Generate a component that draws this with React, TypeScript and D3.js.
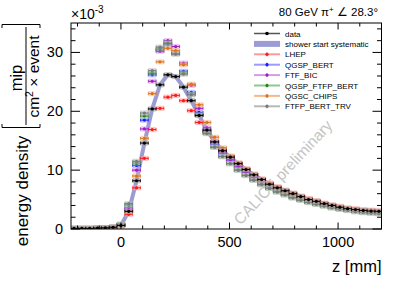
import React from 'react';
import * as d3 from 'd3';

const zBins = [-216, -180, -144, -108, -72, -36, 0, 36, 72, 108, 144, 180, 216, 252, 288, 324, 360, 396, 432, 468, 504, 540, 576, 612, 648, 684, 720, 756, 792, 828, 864, 900, 936, 972, 1008, 1044, 1080, 1116, 1152, 1188];

const dataVals = [0.1, 0.1, 0.1, 0.15, 0.2, 0.3, 0.6, 3.0, 8.2, 14.6, 20.4, 24.5, 26.2, 25.9, 24.1, 21.8, 19.3, 16.8, 14.8, 13.3, 12.2, 11.1, 10.1, 9.2, 8.4, 7.6, 7.0, 6.5, 6.0, 5.5, 5.0, 4.7, 4.3, 4.0, 3.7, 3.45, 3.3, 3.15, 3.05, 3.0];
const lhepVals = [0.1, 0.1, 0.1, 0.1, 0.2, 0.3, 0.5, 2.5, 7.0, 12.0, 16.9, 20.5, 22.4, 22.7, 21.8, 20.1, 18.1, 16.5, 14.8, 13.5, 12.3, 11.2, 10.2, 9.3, 8.5, 7.8, 7.2, 6.6, 6.1, 5.6, 5.2, 4.8, 4.4, 4.1, 3.85, 3.6, 3.45, 3.3, 3.2, 3.1];
const qgspBertVals = [0.1, 0.1, 0.1, 0.15, 0.2, 0.3, 0.7, 3.6, 10.8, 18.5, 26.2, 30.4, 31.3, 29.9, 26.8, 23.2, 19.8, 16.7, 14.4, 12.8, 11.6, 10.5, 9.6, 8.7, 7.9, 7.2, 6.6, 6.1, 5.6, 5.2, 4.8, 4.4, 4.1, 3.8, 3.55, 3.3, 3.1, 2.95, 2.85, 2.75];
const ftfBicVals = [0.1, 0.1, 0.1, 0.15, 0.2, 0.3, 0.7, 3.3, 10.0, 17.0, 25.1, 30.2, 32.0, 31.0, 28.2, 24.4, 20.5, 17.2, 14.8, 13.1, 11.8, 10.7, 9.7, 8.8, 8.0, 7.3, 6.7, 6.1, 5.6, 5.2, 4.8, 4.45, 4.1, 3.8, 3.55, 3.35, 3.15, 3.0, 2.9, 2.85];
const qgspFtfpVals = [0.1, 0.1, 0.1, 0.15, 0.2, 0.3, 0.8, 4.1, 11.2, 19.2, 26.5, 30.6, 31.6, 29.8, 26.5, 22.9, 19.4, 16.3, 13.9, 12.3, 11.1, 10.0, 9.1, 8.3, 7.5, 6.9, 6.3, 5.8, 5.3, 4.9, 4.5, 4.2, 3.9, 3.6, 3.35, 3.15, 2.95, 2.8, 2.7, 2.6];
const qgscChipsVals = [0.15, 0.15, 0.15, 0.2, 0.25, 0.35, 0.6, 3.0, 9.0, 15.4, 23.0, 28.4, 30.7, 30.3, 27.9, 24.6, 21.1, 18.1, 15.6, 13.8, 12.4, 11.2, 10.2, 9.3, 8.4, 7.7, 7.0, 6.4, 5.9, 5.4, 5.0, 4.6, 4.25, 3.95, 3.7, 3.45, 3.25, 3.1, 3.0, 2.95];
const ftfpTrvVals = [0.1, 0.1, 0.1, 0.15, 0.2, 0.3, 0.8, 4.3, 11.5, 19.7, 26.9, 30.9, 31.5, 29.7, 26.3, 22.8, 19.3, 16.2, 13.9, 12.3, 11.1, 10.0, 9.1, 8.3, 7.6, 6.9, 6.3, 5.8, 5.3, 4.9, 4.5, 4.2, 3.9, 3.6, 3.35, 3.15, 2.95, 2.8, 2.7, 2.65];

const modelNames = ['LHEP', 'QGSP_BERT', 'FTF_BIC', 'QGSP_FTFP_BERT', 'QGSC_CHIPS', 'FTFP_BERT_TRV'];
const modelColors = ['#ff1a1a', '#1a1aff', '#a01cc0', '#1f7f1f', '#e0701a', '#7a7a7a'];
const modelLight = ['#ff9a9a', '#9a9aff', '#d79ae6', '#8fc88f', '#f3b98a', '#b8b8b8'];
const modelVals = [lhepVals, qgspBertVals, ftfBicVals, qgspFtfpVals, qgscChipsVals, ftfpTrvVals];

const xMajor = [0, 500, 1000];
const xMinor = [-200, -100, 100, 200, 300, 400, 600, 700, 800, 900, 1100];
const yMajor = [0, 10, 20, 30];
const yMinor = [2, 4, 6, 8, 12, 14, 16, 18, 22, 24, 26, 28, 32, 34];

const BIN_HALF = 18;

export default function App() {
  const W = 415, H = 281;
  const L = 71, R = 381.5, T = 23, B = 229;
  const x = d3.scaleLinear().domain([-230, 1200]).range([L, R]);
  const y = d3.scaleLinear().domain([0, 35]).range([B, T]);
  const font = 'Liberation Sans, Arial, Helvetica, sans-serif';

  const bandLine = d3.line<number>()
    .x((_, i) => x(zBins[i + 6]))
    .y(d => y(d))
    .curve(d3.curveLinear);
  const bandPath = bandLine(dataVals.slice(6)) || '';

  const point = (z: number, v: number, color: string, light: string, key: string) => {
    const cx = x(z), cy = y(v);
    const x0 = x(z - BIN_HALF), x1 = x(z + BIN_HALF);
    return (
      <g key={key}>
        <rect x={x0} y={cy - 2.6} width={x1 - x0} height={5.2} fill={light} opacity={0.55} />
        <line x1={x0} x2={x1} y1={cy} y2={cy} stroke={color} strokeWidth={1} />
        <line x1={x0} x2={x0} y1={cy - 1.5} y2={cy + 1.5} stroke={color} strokeWidth={0.8} />
        <line x1={x1} x2={x1} y1={cy - 1.5} y2={cy + 1.5} stroke={color} strokeWidth={0.8} />
        <circle cx={cx} cy={cy} r={1.6} fill={color} />
      </g>
    );
  };

  const legendRows = 33.5;
  const legendStep = 10.4;
  const lx0 = 254, lx1 = 280, ltx = 285;

  return (
    <svg width={W} height={H} style={{ position: 'absolute', left: 0, top: 0, background: '#fff' }} fontFamily={font}>
      <defs>
        <clipPath id="plotclip">
          <rect x={L} y={T} width={R - L} height={B - T} />
        </clipPath>
      </defs>
      <rect x={0} y={0} width={W} height={H} fill="#fff" />

      {/* watermark */}
      <text x={0} y={0} transform={`translate(287,176) rotate(-47)`} textAnchor="middle" fontSize={15.5} fill="#c4c4c4">CALICE preliminary</text>

      <g clipPath="url(#plotclip)">
        <path d={bandPath} fill="none" stroke="#9c9cd4" strokeWidth={4} strokeLinejoin="round" />
        {modelVals.map((vals, si) =>
          vals.map((v, i) => point(zBins[i], v, modelColors[si], modelLight[si], `m${si}-${i}`))
        )}
        {dataVals.map((v, i) => point(zBins[i], v, '#000', '#9a9a9a', `d-${i}`))}
      </g>

      {/* frame */}
      <rect x={L} y={T} width={R - L} height={B - T} fill="none" stroke="#000" strokeWidth={1} />
      {xMajor.map(t => (
        <g key={`xM${t}`}>
          <line x1={x(t)} x2={x(t)} y1={B} y2={B - 6.5} stroke="#000" />
          <line x1={x(t)} x2={x(t)} y1={T} y2={T + 6.5} stroke="#000" />
          <text x={x(t)} y={247} textAnchor="middle" fontSize={14.5}>{t}</text>
        </g>
      ))}
      {xMinor.map(t => (
        <g key={`xm${t}`}>
          <line x1={x(t)} x2={x(t)} y1={B} y2={B - 3.5} stroke="#000" />
          <line x1={x(t)} x2={x(t)} y1={T} y2={T + 3.5} stroke="#000" />
        </g>
      ))}
      {yMajor.map(t => (
        <g key={`yM${t}`}>
          <line x1={L} x2={L + 9} y1={y(t)} y2={y(t)} stroke="#000" />
          <line x1={R} x2={R - 9} y1={y(t)} y2={y(t)} stroke="#000" />
          <text x={63} y={y(t) + 5} textAnchor="end" fontSize={14.5}>{t}</text>
        </g>
      ))}
      {yMinor.map(t => (
        <g key={`ym${t}`}>
          <line x1={L} x2={L + 4.5} y1={y(t)} y2={y(t)} stroke="#000" />
          <line x1={R} x2={R - 4.5} y1={y(t)} y2={y(t)} stroke="#000" />
        </g>
      ))}

      {/* axis titles */}
      <text x={R} y={272} textAnchor="end" fontSize={16.5}>z [mm]</text>
      <text x={L} y={19} fontSize={14}>×10<tspan dy={-6} fontSize={10}>-3</tspan></text>
      <text x={378} y={16} textAnchor="end" fontSize={11.5}>80 GeV π<tspan dy={-4} fontSize={8}>+</tspan><tspan dy={4}>  ∠ 28.3°</tspan></text>

      <g>
        <text transform="translate(28,191) rotate(-90)" textAnchor="middle" fontSize={17}>energy density</text>
        <text transform="translate(21.5,78) rotate(-90)" textAnchor="middle" fontSize={16.5}>mip</text>
        <line x1={26} x2={26} y1={27} y2={125} stroke="#000" strokeWidth={1} />
        <text transform="translate(38.5,76.5) rotate(-90)" textAnchor="middle" fontSize={15.5}>cm<tspan dy={-6} fontSize={10.5}>2</tspan><tspan dy={6}> × event</tspan></text>
        <path d="M2,28 L2,24.5 L40,24.5 L40,28" fill="none" stroke="#000" strokeWidth={1} />
        <path d="M2,124 L2,127.5 L40,127.5 L40,124" fill="none" stroke="#000" strokeWidth={1} />
      </g>

      {/* legend */}
      <g fontSize={8}>
        <line x1={lx0} x2={lx1} y1={legendRows} y2={legendRows} stroke="#555" strokeWidth={1.5} />
        <circle cx={(lx0 + lx1) / 2} cy={legendRows} r={1.8} fill="#000" />
        <text x={ltx} y={legendRows + 3}>data</text>
        <rect x={lx0} y={legendRows + legendStep - 3} width={lx1 - lx0} height={6} fill="#9c9cd4" />
        <text x={ltx} y={legendRows + legendStep + 3}>shower start systematic</text>
        {modelNames.map((n, i) => {
          const yy = legendRows + legendStep * (i + 2);
          return (
            <g key={n}>
              <line x1={lx0} x2={lx1} y1={yy} y2={yy} stroke={modelLight[i]} strokeWidth={2} />
              <line x1={(lx0 + lx1) / 2} x2={(lx0 + lx1) / 2} y1={yy - 2} y2={yy + 2} stroke={modelColors[i]} strokeWidth={0.8} />
              <circle cx={(lx0 + lx1) / 2} cy={yy} r={1.6} fill={modelColors[i]} />
              <text x={ltx} y={yy + 3}>{n}</text>
            </g>
          );
        })}
      </g>
    </svg>
  );
}
